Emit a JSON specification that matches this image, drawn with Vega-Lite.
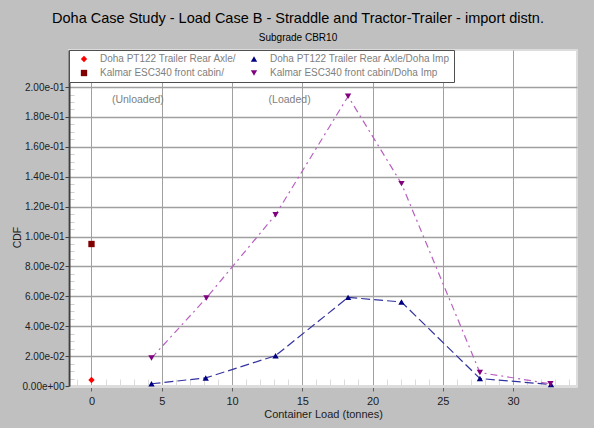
{
  "$schema": "https://vega.github.io/schema/vega-lite/v6.json",
  "width": 508,
  "height": 336,
  "autosize": {"type": "none"},
  "padding": {"left": 69, "top": 50, "right": 17, "bottom": 42},
  "background": "#c0c0c0",
  "title": {
    "text": "Doha Case Study - Load Case B - Straddle and  Tractor-Trailer - import distn.",
    "subtitle": "Subgrade CBR10",
    "anchor": "middle",
    "frame": "group",
    "font": "Liberation Sans",
    "fontSize": 14.5,
    "fontWeight": "normal",
    "color": "#000000",
    "subtitleFont": "Liberation Sans",
    "subtitleFontSize": 10,
    "subtitleColor": "#000000",
    "subtitlePadding": 6,
    "offset": 6,
    "dx": -25
  },
  "config": {
    "view": {"fill": "white", "stroke": "#dcdcdc", "strokeWidth": 2},
    "text": {"font": "Liberation Sans"}
  },
  "datasets": {
    "series": [
      {"series": "Doha PT122 Trailer Rear Axle/", "load": 0, "cdf": 0.004},
      {"series": "Kalmar ESC340 front cabin/", "load": 0, "cdf": 0.095},
      {"series": "Doha PT122 Trailer Rear Axle/Doha Imp", "load": 4.27, "cdf": 0.0015},
      {"series": "Doha PT122 Trailer Rear Axle/Doha Imp", "load": 8.13, "cdf": 0.0054},
      {"series": "Doha PT122 Trailer Rear Axle/Doha Imp", "load": 13.1, "cdf": 0.0203},
      {"series": "Doha PT122 Trailer Rear Axle/Doha Imp", "load": 18.26, "cdf": 0.0593},
      {"series": "Doha PT122 Trailer Rear Axle/Doha Imp", "load": 22.06, "cdf": 0.0562},
      {"series": "Doha PT122 Trailer Rear Axle/Doha Imp", "load": 27.64, "cdf": 0.005},
      {"series": "Doha PT122 Trailer Rear Axle/Doha Imp", "load": 32.7, "cdf": 0.001},
      {"series": "Kalmar ESC340 front cabin/Doha Imp", "load": 4.27, "cdf": 0.0187},
      {"series": "Kalmar ESC340 front cabin/Doha Imp", "load": 8.18, "cdf": 0.0589},
      {"series": "Kalmar ESC340 front cabin/Doha Imp", "load": 13.1, "cdf": 0.1146},
      {"series": "Kalmar ESC340 front cabin/Doha Imp", "load": 18.26, "cdf": 0.1938},
      {"series": "Kalmar ESC340 front cabin/Doha Imp", "load": 22.06, "cdf": 0.1354},
      {"series": "Kalmar ESC340 front cabin/Doha Imp", "load": 27.64, "cdf": 0.009},
      {"series": "Kalmar ESC340 front cabin/Doha Imp", "load": 32.66, "cdf": 0.0015}
    ],
    "notes": [
      {"text": "(Unloaded)", "load": 3.3, "cdf": 0.1915},
      {"text": "(Loaded)", "load": 14.1, "cdf": 0.1915}
    ]
  },
  "encoding": {
    "x": {
      "field": "load",
      "type": "quantitative",
      "scale": {"domain": [-1.6, 34.55], "nice": false, "zero": false},
      "axis": {
        "title": "Container Load (tonnes)",
        "values": [-1,0,1,2,3,4,5,6,7,8,9,10,11,12,13,14,15,16,17,18,19,20,21,22,23,24,25,26,27,28,29,30,31,32,33,34],
        "labelExpr": "datum.value % 5 === 0 && datum.value >= 0 ? datum.label : ''",
        "labelFlush": false,
        "labelOverlap": false,
        "grid": true,
        "gridColor": "#a0a0a0",
        "gridWidth": 1,
        "gridOpacity": {"condition": {"test": "datum.value % 5 === 0 && datum.value >= 0", "value": 1}, "value": 0},
        "tickSize": {"condition": {"test": "datum.value % 5 === 0 && datum.value >= 0", "value": 5}, "value": -7},
        "tickColor": {"condition": {"test": "datum.value % 5 === 0 && datum.value >= 0", "value": "#606060"}, "value": "#dcdcdc"},
        "domainColor": "#dcdcdc",
        "domainWidth": 3,
        "labelFont": "Liberation Sans",
        "labelFontSize": 11,
        "labelColor": "#202020",
        "labelPadding": 4,
        "titleFont": "Liberation Sans",
        "titleFontSize": 11,
        "titleFontWeight": "normal",
        "titleColor": "#202020",
        "titlePadding": 2
      }
    },
    "y": {
      "field": "cdf",
      "type": "quantitative",
      "scale": {"domain": [0, 0.2248], "nice": false, "zero": false},
      "axis": {
        "title": "CDF",
        "values": [0,0.005,0.01,0.015,0.02,0.025,0.03,0.035,0.04,0.045,0.05,0.055,0.06,0.065,0.07,0.075,0.08,0.085,0.09,0.095,0.1,0.105,0.11,0.115,0.12,0.125,0.13,0.135,0.14,0.145,0.15,0.155,0.16,0.165,0.17,0.175,0.18,0.185,0.19,0.195,0.2],
        "labelExpr": "abs(datum.value*50 - round(datum.value*50)) < 0.001 ? replace(replace(format(datum.value, '.2e'), 'e-', 'e-0'), 'e+', 'e+0') : ''",
        "labelOverlap": false,
        "labelFlush": false,
        "grid": true,
        "gridColor": "#a0a0a0",
        "gridWidth": 1.5,
        "gridOpacity": {"condition": {"test": "abs(datum.value*50 - round(datum.value*50)) < 0.001 && datum.value > 0", "value": 1}, "value": 0},
        "tickSize": {"condition": {"test": "abs(datum.value*50 - round(datum.value*50)) < 0.001", "value": 4}, "value": -5},
        "tickColor": {"condition": {"test": "abs(datum.value*50 - round(datum.value*50)) < 0.001", "value": "#404040"}, "value": "#d0d0d0"},
        "domainColor": "#404040",
        "domainWidth": 2,
        "labelFont": "Liberation Sans",
        "labelFontSize": 10,
        "labelColor": "#202020",
        "labelPadding": 1,
        "titleFont": "Liberation Sans",
        "titleFontSize": 10.5,
        "titleFontWeight": "normal",
        "titleColor": "#202020",
        "titleX": -47,
        "titleY": 187
      }
    }
  },
  "layer": [
    {
      "data": {"name": "series"},
      "transform": [{"filter": "datum.series === 'Doha PT122 Trailer Rear Axle/Doha Imp'"}],
      "mark": {"type": "line", "color": "#3333a0", "strokeWidth": 1.2, "strokeDash": [9, 4]}
    },
    {
      "data": {"name": "series"},
      "transform": [{"filter": "datum.series === 'Kalmar ESC340 front cabin/Doha Imp'"}],
      "mark": {"type": "line", "color": "#b860c0", "strokeWidth": 1.2, "strokeDash": [7, 4, 2, 4]}
    },
    {
      "data": {"name": "series"},
      "mark": {"type": "point", "filled": true, "opacity": 1, "size": 40},
      "encoding": {
        "color": {
          "field": "series",
          "type": "nominal",
          "scale": {
            "domain": ["Doha PT122 Trailer Rear Axle/", "Kalmar ESC340 front cabin/", "Doha PT122 Trailer Rear Axle/Doha Imp", "Kalmar ESC340 front cabin/Doha Imp"],
            "range": ["#ff0000", "#800000", "#000080", "#800080"]
          },
          "legend": {
            "orient": "none",
            "legendX": 0,
            "legendY": 0,
            "columns": 2,
            "title": null,
            "fillColor": "white",
            "strokeColor": "#505050",
            "padding": 4,
            "labelColor": "#808080",
            "labelFont": "Liberation Sans",
            "labelFontSize": 10,
            "labelOffset": 11,
            "symbolOffset": 6,
            "symbolSize": 40,
            "rowPadding": 4,
            "columnPadding": 6,
            "labelLimit": 300
          }
        },
        "shape": {
          "field": "series",
          "type": "nominal",
          "scale": {
            "domain": ["Doha PT122 Trailer Rear Axle/", "Kalmar ESC340 front cabin/", "Doha PT122 Trailer Rear Axle/Doha Imp", "Kalmar ESC340 front cabin/Doha Imp"],
            "range": ["diamond", "square", "triangle-up", "triangle-down"]
          },
          "legend": {
            "orient": "none",
            "legendX": 0,
            "legendY": 0,
            "columns": 2,
            "title": null
          }
        }
      }
    },
    {
      "data": {"name": "notes"},
      "mark": {"type": "text", "fontSize": 10.5, "color": "#808080", "baseline": "middle", "align": "center"},
      "encoding": {"text": {"field": "text"}}
    }
  ]
}
